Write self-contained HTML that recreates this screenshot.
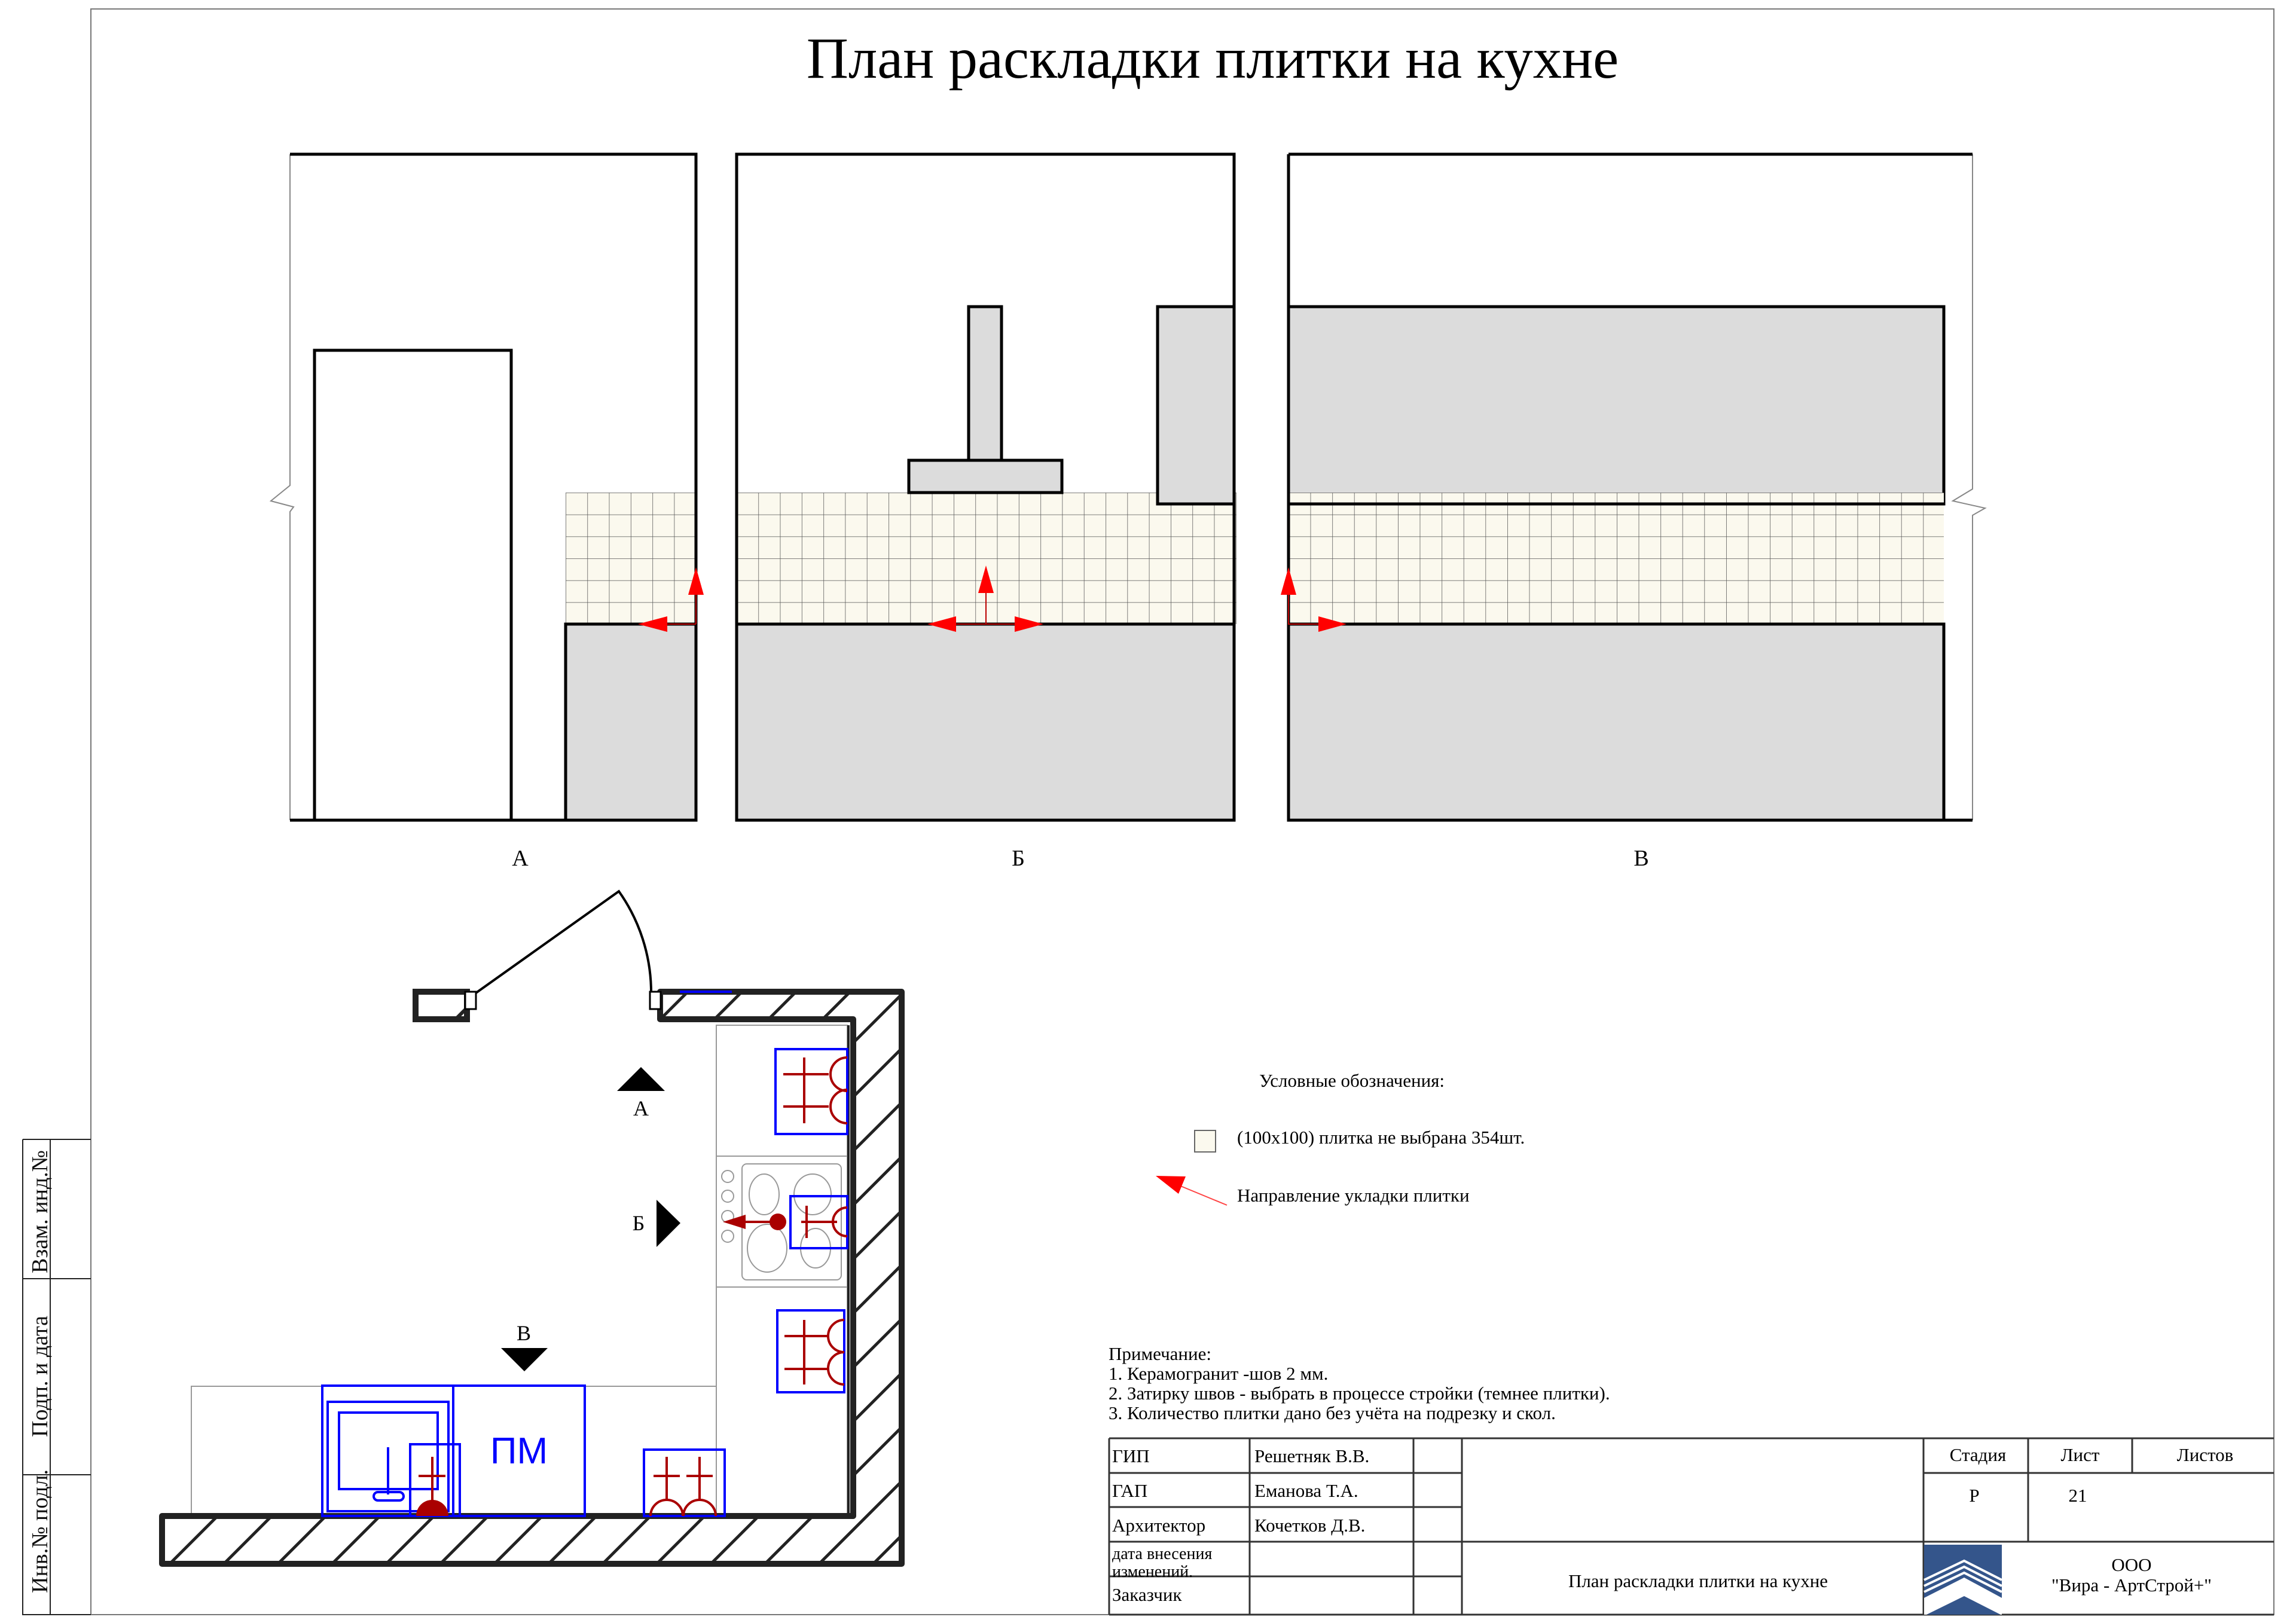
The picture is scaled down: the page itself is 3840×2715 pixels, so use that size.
<!DOCTYPE html>
<html><head><meta charset="utf-8"><style>
html,body{margin:0;padding:0;background:#fff;}
svg{display:block;}
text{font-family:"Liberation Serif","Noto Serif CJK SC",serif;}
</style></head><body>
<svg width="3840" height="2715" viewBox="0 0 3840 2715" xmlns="http://www.w3.org/2000/svg">
<defs>
<pattern id="tA" patternUnits="userSpaceOnUse" x="946" y="824" width="36.3" height="36.7"><rect width="36.3" height="36.7" fill="#fbf9ee"/><path d="M0 0H36.3M0 0V36.7" stroke="#555" stroke-width="1.5" fill="none"/></pattern>
<pattern id="tB" patternUnits="userSpaceOnUse" x="1232" y="824" width="36.3" height="36.7"><rect width="36.3" height="36.7" fill="#fbf9ee"/><path d="M0 0H36.3M0 0V36.7" stroke="#555" stroke-width="1.5" fill="none"/></pattern>
<pattern id="tV" patternUnits="userSpaceOnUse" x="2155" y="824" width="36.6" height="36.7"><rect width="36.6" height="36.7" fill="#fbf9ee"/><path d="M0 0H36.6M0 0V36.7" stroke="#555" stroke-width="1.5" fill="none"/></pattern>
<pattern id="hatch" patternUnits="userSpaceOnUse" width="64" height="64" patternTransform="rotate(45)"><rect width="64" height="64" fill="#fff"/><line x1="0" y1="0" x2="0" y2="64" stroke="#222" stroke-width="10"/></pattern>
</defs>

<rect x="152" y="15" width="3651" height="2686" fill="none" stroke="#777" stroke-width="2"/>
<g stroke="#222" stroke-width="2" fill="none">
<path d="M38 1906V2701H152M84 1906V2701M38 1906H152M38 2139H152M38 2467H152"/>
</g>
<g font-size="38" fill="#111">
<text transform="translate(79,2130) rotate(-90)">Взам. инд.№</text>
<text transform="translate(79,2404) rotate(-90)">Подп. и дата</text>
<text transform="translate(79,2665) rotate(-90)">Инв.№ подл.</text>
</g>

<text x="2028" y="130" font-size="97" text-anchor="middle" fill="#000">План раскладки плитки на кухне</text>

<!-- Elevation A -->
<polyline points="485,258 485,812 453,838 491,848 485,856 485,1372" fill="none" stroke="#888" stroke-width="2"/>
<rect x="946" y="824" width="218" height="220" fill="url(#tA)"/>
<rect x="946" y="1044" width="218" height="328" fill="#dcdcdc" stroke="#000" stroke-width="5"/>
<path d="M485 258H1164V1372H485" fill="none" stroke="#000" stroke-width="5"/>
<path d="M526 1372V586H855V1372" fill="none" stroke="#000" stroke-width="5"/>

<!-- Elevation Б -->
<rect x="1232" y="824" width="836" height="220" fill="url(#tB)"/>
<rect x="1232" y="1044" width="832" height="328" fill="#dcdcdc"/>
<rect x="1936" y="513" width="128" height="330" fill="#dcdcdc" stroke="#000" stroke-width="5"/>
<rect x="1620" y="513" width="55" height="257" fill="#dcdcdc" stroke="#000" stroke-width="5"/>
<rect x="1520" y="770" width="256" height="54" fill="#dcdcdc" stroke="#000" stroke-width="5"/>
<path d="M1232 1044H2064" stroke="#000" stroke-width="5"/>
<rect x="1232" y="258" width="832" height="1114" fill="none" stroke="#000" stroke-width="5"/>

<!-- Elevation В -->
<polyline points="3299,258 3299,818 3266,838 3320,850 3299,862 3299,1372" fill="none" stroke="#888" stroke-width="2"/>
<rect x="2155" y="513" width="1096" height="330" fill="#dcdcdc" stroke="#000" stroke-width="5"/>
<rect x="2155" y="824" width="1096" height="220" fill="url(#tV)"/>
<path d="M2155 843H3251" stroke="#000" stroke-width="5"/>
<rect x="2155" y="1044" width="1096" height="328" fill="#dcdcdc" stroke="#000" stroke-width="5"/>
<path d="M2155 258H3299M2155 258V1372H3299" fill="none" stroke="#000" stroke-width="5"/>

<!-- red arrows -->
<g fill="none" stroke="#b00" stroke-width="2">
<path d="M1164 1044H1116M1164 1044V995"/>
<path d="M1649 992V1044M1599 1044H1697"/>
<path d="M2155 995V1044H2205"/>
</g>
<g fill="#f00">
<polygon points="1164,949 1151,995 1177,995"/>
<polygon points="1067,1044 1116,1031 1116,1057"/>
<polygon points="1649,946 1636,992 1662,992"/>
<polygon points="1551,1044 1599,1031 1599,1057"/>
<polygon points="1745,1044 1697,1031 1697,1057"/>
<polygon points="2155,949 2142,995 2168,995"/>
<polygon points="2252,1044 2205,1031 2205,1057"/>
</g>
<g font-size="38" fill="#000" text-anchor="middle">
<text x="870" y="1448">А</text>
<text x="1703" y="1448">Б</text>
<text x="2745" y="1448">В</text>
</g>

<!-- PLAN -->
<g fill="none" stroke="#999" stroke-width="2">
<rect x="1198" y="1715" width="219" height="821"/>
<path d="M1198 1934H1417M1198 2153H1417"/>
<rect x="320" y="2319" width="878" height="217"/>
<rect x="1241" y="1947" width="166" height="194" rx="8"/>
<circle cx="1217" cy="1968" r="10"/><circle cx="1217" cy="2001" r="10"/><circle cx="1217" cy="2035" r="10"/><circle cx="1217" cy="2068" r="10"/>
<ellipse cx="1278" cy="1998" rx="25" ry="34"/><ellipse cx="1359" cy="1998" rx="31" ry="34"/>
<ellipse cx="1283" cy="2088" rx="33" ry="40"/><ellipse cx="1364" cy="2088" rx="25" ry="33"/>
</g>
<path d="M1104 1659H1508V2616H271V2536H1427V1705H1104Z" fill="url(#hatch)" stroke="#222" stroke-width="10" stroke-linejoin="round"/>
<path d="M1419 1715V2536" stroke="#222" stroke-width="4"/>
<rect x="695" y="1659" width="86" height="46" fill="#fff" stroke="#222" stroke-width="10"/>
<line x1="762" y1="1705" x2="781" y2="1686" stroke="#222" stroke-width="6"/>
<line x1="1137" y1="1659" x2="1224" y2="1659" stroke="#00f" stroke-width="4"/>
<rect x="778" y="1659" width="18" height="29" fill="#fff" stroke="#000" stroke-width="3"/>
<rect x="1087" y="1659" width="18" height="29" fill="#fff" stroke="#000" stroke-width="3"/>
<path d="M796 1661L1035 1491A293 293 0 0 1 1089 1659" fill="none" stroke="#000" stroke-width="4"/>

<g fill="none" stroke="#00f" stroke-width="4">
<rect x="1297" y="1755" width="120" height="142"/>
<rect x="1322" y="2001" width="95" height="87"/>
<rect x="1300" y="2192" width="112" height="137"/>
<rect x="1077" y="2425" width="135" height="111"/>
<rect x="539" y="2318" width="219" height="218"/>
<rect x="758" y="2318" width="220" height="218"/>
<rect x="548" y="2345" width="202" height="183"/>
<rect x="567" y="2363" width="165" height="128"/>
<rect x="686" y="2416" width="83" height="120"/>
<path d="M649 2421V2500"/>
<rect x="625" y="2496" width="50" height="14" rx="7"/>
</g>
<text x="868" y="2448" font-size="62" fill="#00f" text-anchor="middle" style="font-family:'Liberation Sans',sans-serif">ПМ</text>
<g fill="none" stroke="#a00" stroke-width="4">
<path d="M1310 1797H1386M1310 1851H1386M1345 1769V1825M1345 1823V1879"/>
<path d="M1417 1769A28 28 0 0 0 1417 1825M1417 1823A28 28 0 0 0 1417 1879"/>
<path d="M1340 2044H1400M1349 2017V2071M1417 2020A24 24 0 0 0 1417 2068"/>
<path d="M1312 2235H1386M1312 2290H1386M1345 2208V2262M1345 2262V2316"/>
<path d="M1412 2208A27 27 0 0 0 1412 2262M1412 2262A27 27 0 0 0 1412 2316"/>
<path d="M1093 2469H1137M1148 2469H1192M1115 2437V2509M1170 2437V2509"/>
<path d="M1088 2536A27 27 0 0 1 1142 2536M1143 2536A27 27 0 0 1 1197 2536"/>
<path d="M700 2469H745M723 2437V2510"/>
</g>
<path d="M696 2536A27 27 0 0 1 750 2536Z" fill="#a00"/>
<path d="M1301 2044H1240" stroke="#a00" stroke-width="4"/>
<circle cx="1301" cy="2044" r="14" fill="#a00"/>
<polygon points="1209,2044 1247,2032 1247,2056" fill="#a00"/>

<polygon points="1072,1785 1112,1825 1032,1825" fill="#000"/>
<polygon points="1138,2046 1098,2007 1098,2086" fill="#000"/>
<polygon points="877,2294 838,2255 916,2255" fill="#000"/>
<g font-size="36" fill="#000" text-anchor="middle">
<text x="1072" y="1866">А</text>
<text x="1068" y="2058">Б</text>
<text x="876" y="2242">В</text>
</g>

<g font-size="31" fill="#000">
<text x="2106" y="1818">Условные обозначения:</text>
<rect x="1998" y="1891" width="35" height="36" fill="#fbf9ee" stroke="#666" stroke-width="2"/>
<text x="2069" y="1913">(100х100) плитка не выбрана 354шт.</text>
<text x="2069" y="2010">Направление укладки плитки</text>
<line x1="2052" y1="2016" x2="1960" y2="1978" stroke="#f44" stroke-width="2"/>
<polygon points="1933,1967 1983,1968 1971,1997" fill="#f00"/>
</g>

<g font-size="31" fill="#000">
<text x="1854" y="2275">Примечание:</text>
<text x="1854" y="2308">1. Керамогранит  -шов 2 мм.</text>
<text x="1854" y="2341">2. Затирку  швов - выбрать в процессе стройки (темнее плитки).</text>
<text x="1854" y="2374">3. Количество плитки дано без учёта на подрезку и скол.</text>
</g>

<g stroke="#333" stroke-width="3" fill="none">
<path d="M1855 2406H3803M1855 2701H3803M1855 2406V2701M2090 2406V2701M2364 2406V2701M2445 2406V2701M3217 2406V2701M3392 2406V2579M3566 2406V2464"/>
<path d="M1855 2464H2445M1855 2521H2445M1855 2579H2445M1855 2637H2445M3217 2464H3803M3217 2579H3803M2445 2579H3217"/>
</g>
<g font-size="31" fill="#000">
<text x="1860" y="2446">ГИП</text>
<text x="2098" y="2446">Решетняк В.В.</text>
<text x="1860" y="2504">ГАП</text>
<text x="2098" y="2504">Еманова Т.А.</text>
<text x="1860" y="2562">Архитектор</text>
<text x="2098" y="2562">Кочетков Д.В.</text>
<text x="1860" y="2608" font-size="28">дата  внесения</text>
<text x="1860" y="2638" font-size="28">изменений.</text>
<text x="1860" y="2678">Заказчик</text>
<text x="3308" y="2444" text-anchor="middle">Стадия</text>
<text x="3479" y="2444" text-anchor="middle">Лист</text>
<text x="3688" y="2444" text-anchor="middle">Листов</text>
<text x="3302" y="2512" text-anchor="middle">Р</text>
<text x="3475" y="2512" text-anchor="middle">21</text>
<text x="2840" y="2655" text-anchor="middle">План раскладки плитки на кухне</text>
<text x="3565" y="2628" text-anchor="middle">ООО</text>
<text x="3565" y="2662" text-anchor="middle">"Вира - АртСтрой+"</text>
</g>
<rect x="3218" y="2584" width="130" height="117" fill="#34558b"/>
<g fill="none" stroke="#fff" stroke-width="4">
<path d="M3218 2643L3285 2611L3348 2643"/>
<path d="M3218 2653L3285 2621L3348 2653"/>
<path d="M3218 2663L3285 2631L3348 2663"/>
</g>
<polygon points="3218,2673 3285,2639 3348,2673 3348,2701 3218,2701" fill="#fff"/>
<polygon points="3285,2670 3346,2701 3222,2701" fill="#34558b"/>
</svg>
</body></html>
